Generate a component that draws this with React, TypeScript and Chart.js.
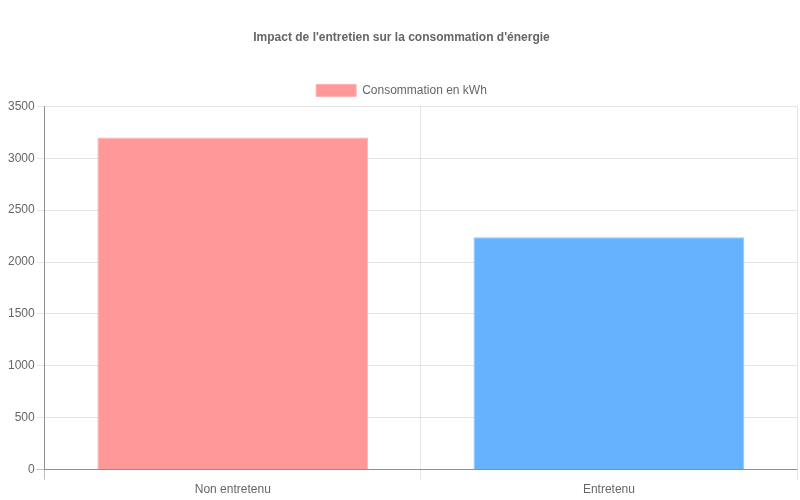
import { useEffect, useRef } from "react";
import Chart from "chart.js/auto";

const categories = ["Non entretenu", "Entretenu"];
const consumption = [3200, 2240];
const barColors = ["#ff9999", "#66b2ff"];
const barBorders = ["#ffb0b0", "#8cc5ff"];

const App = () => {
  const chartRef = useRef<HTMLCanvasElement>(null);

  useEffect(() => {
    document.body.style.margin = "0";
    const ctx = chartRef.current?.getContext("2d");
    if (!ctx) return;

    Chart.defaults.font.family = "'Liberation Sans', Arial, sans-serif";
    Chart.defaults.color = "#666";

    const chart = new Chart(ctx, {
      type: "bar",
      data: {
        labels: categories,
        datasets: [
          {
            label: "Consommation en kWh",
            data: consumption,
            backgroundColor: barColors,
            borderColor: barBorders,
            borderWidth: 1,
          },
        ],
      },
      options: {
        animation: false,
        responsive: true,
        maintainAspectRatio: false,
        layout: { padding: { left: 6, right: 3 } },
        plugins: {
          title: {
            display: true,
            text: "Impact de l'entretien sur la consommation d'énergie",
            font: { size: 12, weight: "bold" },
            padding: { top: 30, bottom: 30 },
          },
          legend: {
            labels: { boxWidth: 40, font: { size: 12 } },
          },
        },
        scales: {
          x: {
            grid: {
              color: (c) => (c.index === 0 ? "rgba(0,0,0,0.25)" : "rgba(0,0,0,0.1)"),
              tickLength: 10,
            },
            border: { color: "rgba(0,0,0,0.25)" },
            ticks: { font: { size: 12 } },
          },
          y: {
            beginAtZero: true,
            max: 3500,
            ticks: {
              stepSize: 500,
              padding: 2,
              font: { size: 12 },
              callback: (v) => String(v),
            },
            grid: {
              color: (c) =>
                c.tick && c.tick.value === 0 ? "rgba(0,0,0,0.25)" : "rgba(0,0,0,0.1)",
              tickLength: 8,
            },
            border: { color: "rgba(0,0,0,0.25)" },
          },
        },
      },
    });

    return () => {
      chart.destroy();
    };
  }, []);

  return (
    <div style={{ width: 800, height: 500, position: "relative" }}>
      <canvas ref={chartRef} />
    </div>
  );
};

export default App;
